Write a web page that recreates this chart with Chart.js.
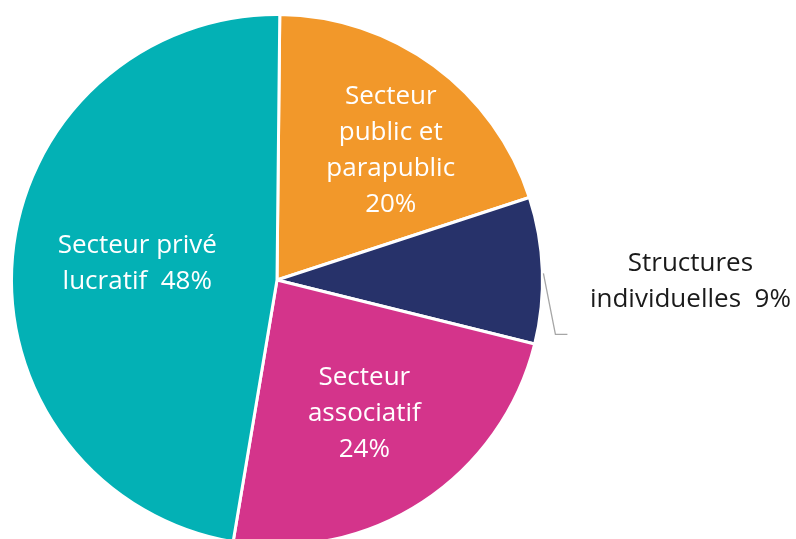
<!DOCTYPE html>
<html>
<head>
<meta charset="utf-8">
<script src="https://cdn.jsdelivr.net/npm/chart.js@4"></script>
<style>
  html, body { margin: 0; padding: 0; background: #fff; overflow: hidden; }
  #wrap { width: 796px; height: 560px; position: relative; }
</style>
</head>
<body>
<div id="wrap"><canvas id="pie"></canvas></div>
<script>
// data
const categories = ['Secteur public et parapublic', 'Structures individuelles', 'Secteur associatif', 'Secteur privé lucratif'];
const shares = [20, 9, 24, 48];
const sliceColors = ['#f2982a', '#27326a', '#d4348b', '#03b1b5'];
const labelLines = [
  ['Secteur', 'public et', 'parapublic', '20%'],
  ['Structures', 'individuelles  9%'],
  ['Secteur', 'associatif', '24%'],
  ['Secteur privé', 'lucratif  48%']
];

// where each label sits: t = fraction along the slice angle, r = fraction of radius
const labelPlace = [
  { t: 0.57, r: 0.65, color: '#ffffff' },
  { t: 0.52, r: 1.0, color: '#1a1a1a', outside: true },
  { t: 0.50, r: 0.60, color: '#ffffff' },
  { t: 0.51, r: 0.53, color: '#ffffff' }
];

const FONT = '26px "Open Sans", "DejaVu Sans", sans-serif';
const LINE_H = 36;

const sliceLabels = {
  id: 'sliceLabels',
  afterDatasetsDraw(chart){
    const ctx = chart.ctx;
    const arcs = chart.getDatasetMeta(0).data;
    ctx.save();
    ctx.font = FONT;
    ctx.textAlign = 'center';
    ctx.textBaseline = 'middle';
    arcs.forEach((arc, i) => {
      const p = labelPlace[i];
      const a = arc.startAngle + (arc.endAngle - arc.startAngle) * p.t;
      const R = arc.outerRadius;
      let cx, cy;
      if(p.outside){
        // leader line: edge -> elbow -> short horizontal
        const x0 = arc.x + Math.cos(a) * (R + 1), y0 = arc.y + Math.sin(a) * (R + 1);
        const x1 = x0 + 12, y1 = y0 + 61;
        const x2 = x1 + 12;
        ctx.strokeStyle = '#a6a6a6';
        ctx.lineWidth = 1.3;
        ctx.beginPath();
        ctx.moveTo(x0, y0); ctx.lineTo(x1, y1); ctx.lineTo(x2, y1);
        ctx.stroke();
        cx = x2 + 123; cy = y0 + 8;
      } else {
        cx = arc.x + Math.cos(a) * R * p.r;
        cy = arc.y + Math.sin(a) * R * p.r;
      }
      const lines = labelLines[i];
      ctx.fillStyle = p.color;
      lines.forEach((t, k) => {
        ctx.fillText(t, cx, cy + (k - (lines.length - 1) / 2) * LINE_H);
      });
    });
    ctx.restore();
  }
};

new Chart(document.getElementById('pie'), {
  type: 'pie',
  data: {
    labels: categories,
    datasets: [{
      data: shares,
      backgroundColor: sliceColors,
      borderColor: '#ffffff',
      borderWidth: 3
    }]
  },
  options: {
    responsive: true,
    maintainAspectRatio: false,
    animation: false,
    rotation: 0.6,
    layout: { padding: { left: 10, top: 13, right: 252, bottom: 13 } },
    plugins: { legend: { display: false }, tooltip: { enabled: false } }
  },
  plugins: [sliceLabels]
});
</script>
</body>
</html>
